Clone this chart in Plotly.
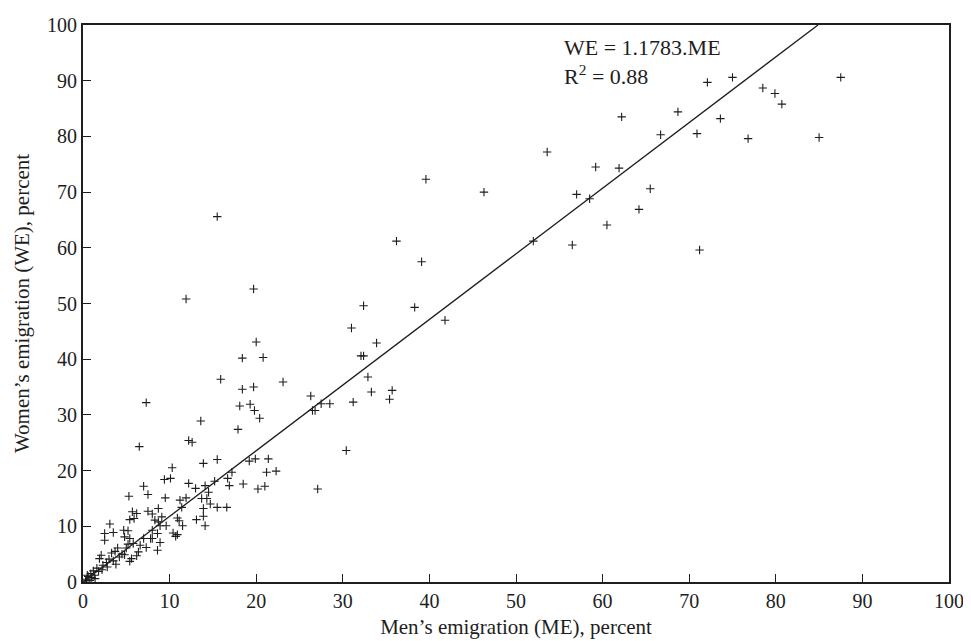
import plotly.graph_objects as go

# Men's emigration (ME) and women's emigration (WE), percent
men_emigration = [
    53.6, 62.2, 68.7, 72.1, 75.0, 87.5, 78.5, 79.9, 80.7, 73.6, 70.9, 66.7, 76.8, 85.0,
    59.2, 61.9, 57.0, 58.5, 65.5, 64.2, 60.5, 56.5, 71.2, 52.0, 39.6, 46.3, 36.2, 39.1,
    41.8, 32.4, 38.3, 31.0, 33.9, 32.1, 32.4, 32.9, 26.3, 26.5, 26.8, 27.5, 28.5, 31.2,
    33.3, 35.7, 35.4, 30.4, 27.1,
    15.5, 19.7, 11.9, 20.0, 18.4, 20.8, 15.9, 23.1, 18.4, 19.7, 18.1, 19.3, 19.8, 20.4,
    13.6, 17.9, 12.2, 12.6, 10.3, 13.9, 15.5, 19.2, 19.9, 21.4, 17.2, 21.2, 22.3, 9.4,
    10.1, 16.7, 12.2, 14.1, 15.2, 13.0, 16.9, 18.5, 20.2, 21.0, 14.5, 9.5, 11.9, 13.7, 14.3,
    7.3, 6.5, 7.0, 5.3, 7.5,
    11.2, 14.7, 15.5, 16.6, 11.4, 8.7, 13.9, 8.0, 13.9, 13.1, 9.1, 8.3, 8.7, 10.9, 11.1,
    8.9, 9.6, 11.5, 14.1, 8.0, 8.6, 10.4, 10.7, 10.9, 8.0, 8.9, 8.6,
    5.7, 6.2, 5.9, 5.4, 7.5, 3.1, 4.7, 5.2, 2.5, 3.5, 2.5, 4.8, 5.4, 7.0, 7.8, 6.6, 5.8,
    7.3, 5.2, 5.0, 6.4, 6.2, 5.6, 5.4, 4.0, 3.7, 3.3, 2.1, 1.9, 2.7, 2.3, 1.6, 1.2, 0.9,
    0.6, 0.4, 0.8, 1.3, 1.8, 2.8, 3.5, 4.2, 4.5, 3.0, 1.0, 0.3, 0.5, 2.2, 3.8, 4.8, 1.4,
]
women_emigration = [
    77.2, 83.5, 84.4, 89.7, 90.6, 90.6, 88.7, 87.7, 85.8, 83.2, 80.5, 80.3, 79.6, 79.8,
    74.5, 74.3, 69.6, 68.8, 70.6, 66.9, 64.1, 60.5, 59.6, 61.2, 72.3, 70.0, 61.2, 57.5,
    47.0, 49.6, 49.3, 45.6, 42.9, 40.6, 40.6, 36.8, 33.4, 30.8, 30.8, 32.0, 32.0, 32.3,
    34.1, 34.4, 32.8, 23.6, 16.7,
    65.6, 52.6, 50.8, 43.1, 40.2, 40.3, 36.4, 35.9, 34.6, 35.0, 31.6, 31.9, 30.8, 29.4,
    28.9, 27.4, 25.4, 25.1, 20.5, 21.3, 22.0, 21.7, 22.1, 22.1, 19.7, 19.7, 19.9, 18.4,
    18.6, 18.6, 17.7, 17.3, 18.1, 16.8, 17.3, 17.6, 16.7, 17.2, 16.1, 15.1, 15.1, 15.0, 15.0,
    32.2, 24.3, 17.2, 15.4, 15.7,
    14.7, 14.0, 13.4, 13.4, 13.4, 13.2, 13.2, 12.2, 11.8, 11.2, 11.7, 11.1, 10.8, 11.5, 11.0,
    10.1, 10.1, 10.1, 10.1, 9.3, 8.7, 8.8, 8.2, 8.5, 7.8, 7.1, 5.7,
    12.6, 12.3, 11.4, 11.2, 12.7, 10.4, 9.3, 9.2, 8.7, 8.9, 7.5, 8.1, 7.8, 7.8, 7.8, 6.6, 6.9,
    6.2, 6.8, 6.1, 5.4, 4.7, 4.2, 3.7, 6.1, 5.5, 5.2, 4.8, 4.2, 3.5, 3.0, 2.5, 2.0, 1.5,
    1.0, 0.5, 0.3, 1.2, 1.9, 2.7, 3.8, 4.5, 5.0, 4.1, 0.8, 0.2, 1.2, 2.2, 3.2, 4.9, 0.6,
]

slope = 1.1783
fit_x = [0, 100 / slope]
fit_y = [slope * v for v in fit_x]

tick_vals = [0, 10, 20, 30, 40, 50, 60, 70, 80, 90, 100]
tick_text = [str(v) for v in tick_vals]

font_family = "Liberation Serif, DejaVu Serif, serif"
ink = "#1e1e1e"

fig = go.Figure()
fig.add_trace(go.Scatter(
    x=men_emigration, y=women_emigration, mode="markers",
    marker=dict(symbol="cross-thin", size=6, line=dict(color=ink, width=1.1)),
    showlegend=False, hoverinfo="x+y",
))
fig.add_trace(go.Scatter(
    x=fit_x, y=fit_y, mode="lines",
    line=dict(color=ink, width=1.3), showlegend=False, hoverinfo="skip",
))

axis_common = dict(
    range=[0, 100], tickvals=tick_vals, ticktext=tick_text,
    ticks="inside", ticklen=8, tickwidth=1.3, tickcolor=ink,
    showline=True, linecolor=ink, linewidth=2, mirror=True,
    showgrid=False, zeroline=False, automargin=False,
    tickfont=dict(family=font_family, size=20, color=ink),
)

# The page body has an 8px default margin, so the figure is sized to fit.
fig.update_layout(
    width=963, height=633,
    margin=dict(l=75, r=22, t=17, b=59),
    plot_bgcolor="white", paper_bgcolor="white",
    font=dict(family=font_family, color=ink),
    xaxis=dict(**axis_common,
               title=dict(text="Men’s emigration (ME), percent",
                          font=dict(family=font_family, size=21, color=ink),
                          standoff=8)),
    yaxis=dict(**axis_common,
               title=dict(text="Women’s emigration (WE), percent",
                          font=dict(family=font_family, size=21, color=ink),
                          standoff=12)),
    annotations=[
        dict(x=55.3, y=95.9, xref="x", yref="y", xanchor="left", yanchor="middle",
             text="WE = 1.1783.ME", showarrow=False,
             font=dict(family=font_family, size=22, color=ink)),
        dict(x=55.3, y=91.0, xref="x", yref="y", xanchor="left", yanchor="middle",
             text="R<sup>2</sup> = 0.88", showarrow=False,
             font=dict(family=font_family, size=22, color=ink)),
    ],
)

fig.write_html("out.html")
